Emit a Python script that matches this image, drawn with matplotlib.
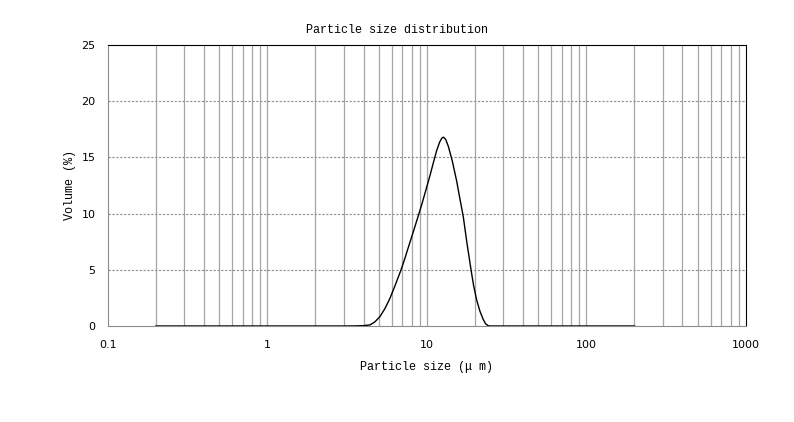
import numpy as np
import matplotlib.pyplot as plt
from matplotlib.ticker import FixedLocator, NullFormatter

# particle size (um) and volume (%)
sizes = [0.2, 0.5, 1.0, 2.0, 3.0, 3.5, 4.0, 4.4, 4.7, 5.07, 5.45, 5.86, 6.35,
         6.87, 7.3, 7.82, 8.3, 8.82, 9.27, 9.8, 10.45, 11.0, 11.5, 12.0,
         12.4, 12.7, 13.1, 13.6, 14.4, 15.35, 16.0, 16.9, 17.8, 18.9, 19.6,
         20.5, 21.5, 22.5, 23.3, 24.2, 25.0, 30.0, 50.0, 100.0, 200.0]
volume = [0.0, 0.0, 0.0, 0.0, 0.0, 0.005, 0.03, 0.1, 0.35, 0.83, 1.55, 2.46, 3.7,
          4.98, 6.1, 7.45, 8.6, 9.8, 10.8, 12.0, 13.4, 14.6, 15.6, 16.35,
          16.72, 16.8, 16.6, 16.0, 14.7, 12.9, 11.5, 9.7, 7.4, 4.98, 3.6,
          2.3, 1.3, 0.6, 0.2, 0.02, 0.0, 0.0, 0.0, 0.0, 0.0]

x_major = [0.1, 1, 10, 100, 1000]
x_labels = ['0.1', '1', '10', '100', '1000']
y_ticks = [0, 5, 10, 15, 20, 25]

fig = plt.figure(figsize=(7.94, 4.22), dpi=100)
ax = fig.add_axes([0.136, 0.2275, 0.8035, 0.6659])

ax.plot(sizes, volume, color='black', linewidth=1.0, zorder=3)

ax.set_xscale('log')
ax.set_xlim(0.1, 1000)
ax.set_ylim(0, 25)

# vertical grid at every 1..9 step of each decade
grid_x = [m * 10.0 ** e for e in range(-1, 3) for m in range(2, 10)] + [1, 10, 100]
for gx in grid_x:
    ax.axvline(gx, color='#a6a6a6', linewidth=0.9, zorder=1)
for gy in y_ticks[1:-1]:
    ax.axhline(gy, color='#8c8c8c', linewidth=0.8, linestyle=(0, (2, 1.5)), zorder=1)

ax.xaxis.set_major_locator(FixedLocator(x_major))
ax.set_xticklabels(x_labels)
ax.xaxis.set_minor_formatter(NullFormatter())
ax.set_yticks(y_ticks)
ax.tick_params(which='both', length=0, labelsize=8)
ax.tick_params(axis='x', pad=10)
ax.tick_params(axis='y', pad=9)

ax.spines['left'].set_color('#8c8c8c')
ax.spines['bottom'].set_color('#8c8c8c')
ax.spines['top'].set_color('black')
ax.spines['right'].set_color('black')

lab_font = ['Liberation Mono', 'Noto Sans CJK SC', 'DejaVu Sans']
fig.text(0.5, 0.93, 'Particle size distribution', ha='center', va='center',
         fontsize=8.5, family=lab_font)
ax.set_xlabel('Particle size (\u03bc m)', fontsize=8.5, family=lab_font, labelpad=8)
ax.set_ylabel('Volume (%)', fontsize=8.5, family=lab_font, labelpad=4)

fig.savefig('out.png', dpi=100)
